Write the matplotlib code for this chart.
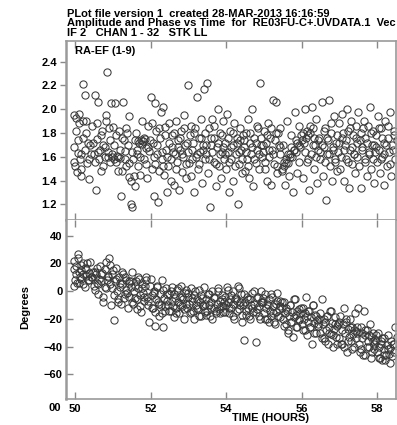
import matplotlib
matplotlib.use("Agg")
import matplotlib.pyplot as plt

plt.rcParams['font.family'] = ['Liberation Sans', 'DejaVu Sans']
plt.rcParams['font.weight'] = 'bold'

title_lines = [
    "PLot file version 1  created 28-MAR-2013 16:16:59",
    "Amplitude and Phase vs Time  for  RE03FU-C+.UVDATA.1  Vec",
    "IF 2   CHAN 1 - 32   STK LL",
]
baseline_label = "RA-EF (1-9)"

# time (hours), amplitude and phase (degrees)
times = [
    49.96, 49.98, 50.01, 50.03, 50.05, 50.08, 50.10, 50.12, 50.15, 50.17, 50.20, 50.22, 50.25, 50.28, 50.31, 50.34, 50.38, 50.42,
    50.46, 50.49, 50.52, 50.55, 50.58, 50.61, 50.64, 50.67, 50.70, 50.72, 50.75, 50.78, 50.81, 50.84, 50.86, 50.89, 50.92, 50.94,
    50.97, 51.00, 51.03, 51.05, 51.08, 51.11, 51.14, 51.17, 51.20, 51.22, 51.25, 51.28, 51.31, 51.34, 51.36, 51.39, 51.42, 51.44,
    51.47, 51.50, 51.52, 51.55, 51.58, 51.61, 51.63, 51.66, 51.69, 51.72, 51.74, 51.77, 51.80, 51.82, 51.85, 51.88, 51.91, 51.94,
    51.97, 52.00, 52.03, 52.06, 52.08, 52.11, 52.14, 52.16, 52.19, 52.22, 52.25, 52.28, 52.30, 52.33, 52.36, 52.39, 52.41, 52.44,
    52.47, 52.50, 52.53, 52.56, 52.58, 52.61, 52.64, 52.67, 52.69, 52.72, 52.75, 52.78, 52.81, 52.83, 52.86, 52.89, 52.92, 52.94,
    52.97, 53.00, 53.03, 53.06, 53.08, 53.11, 53.14, 53.16, 53.19, 53.22, 53.25, 53.28, 53.30, 53.33, 53.36, 53.39, 53.41, 53.44,
    53.47, 53.50, 53.53, 53.56, 53.58, 53.61, 53.64, 53.67, 53.69, 53.72, 53.75, 53.78, 53.81, 53.83, 53.86, 53.89, 53.92, 53.94,
    53.97, 54.00, 54.03, 54.06, 54.08, 54.11, 54.14, 54.17, 54.19, 54.22, 54.25, 54.28, 54.31, 54.33, 54.36, 54.39, 54.42, 54.44,
    54.47, 54.50, 54.53, 54.56, 54.58, 54.61, 54.64, 54.67, 54.69, 54.72, 54.75, 54.78, 54.81, 54.83, 54.86, 54.89, 54.92, 54.94,
    54.97, 55.00, 55.03, 55.06, 55.08, 55.11, 55.14, 55.17, 55.19, 55.22, 55.25, 55.28, 55.31, 55.33, 55.36, 55.39, 55.42, 55.44,
    55.47, 55.50, 55.53, 55.56, 55.58, 55.61, 55.64, 55.67, 55.69, 55.72, 55.75, 55.78, 55.81, 55.83, 55.86, 55.89, 55.92, 55.94,
    55.97, 56.00, 56.03, 56.06, 56.08, 56.11, 56.14, 56.17, 56.19, 56.22, 56.25, 56.28, 56.31, 56.33, 56.36, 56.39, 56.42, 56.44,
    56.47, 56.50, 56.53, 56.56, 56.58, 56.61, 56.64, 56.67, 56.69, 56.72, 56.75, 56.78, 56.81, 56.83, 56.86, 56.89, 56.92, 56.94,
    56.97, 57.00, 57.03, 57.06, 57.08, 57.11, 57.14, 57.17, 57.19, 57.22, 57.25, 57.28, 57.31, 57.33, 57.36, 57.39, 57.42, 57.44,
    57.47, 57.50, 57.53, 57.56, 57.58, 57.61, 57.64, 57.67, 57.69, 57.72, 57.75, 57.78, 57.81, 57.83, 57.86, 57.89, 57.92, 57.94,
    57.97, 58.00, 58.03, 58.06, 58.08, 58.11, 58.14, 58.17, 58.19, 58.22, 58.25, 58.28, 58.31, 58.34, 58.37, 58.40, 58.44, 58.48, 58.52,
    49.97, 50.02, 50.07, 50.11, 50.16, 50.21, 50.26, 50.30, 50.36, 50.40,
    50.47, 50.53, 50.57, 50.62, 50.68, 50.73, 50.79, 50.83, 50.88, 50.93,
    50.98, 51.04, 51.09, 51.13, 51.18, 51.23, 51.29, 51.33, 51.38, 51.43,
    51.48, 51.53, 51.59, 51.64, 51.68, 51.73, 51.78, 51.83, 51.87, 51.92,
    51.98, 52.04, 52.09, 52.13, 52.18, 52.23, 52.29, 52.34, 52.38, 52.43,
    52.48, 52.54, 52.59, 52.63, 52.68, 52.73, 52.79, 52.84, 52.88, 52.93,
    52.98, 53.04, 53.09, 53.13, 53.18, 53.23, 53.29, 53.34, 53.38, 53.43,
    53.48, 53.54, 53.59, 53.63, 53.68, 53.73, 53.79, 53.84, 53.88, 53.93,
    53.98, 54.04, 54.09, 54.13, 54.18, 54.23, 54.29, 54.34, 54.38, 54.43,
    54.48, 54.54, 54.59, 54.63, 54.68, 54.73, 54.79, 54.84, 54.88, 54.93,
    54.98, 55.04, 55.09, 55.13, 55.18, 55.23, 55.29, 55.34, 55.38, 55.43,
    55.48, 55.54, 55.59, 55.63, 55.68, 55.73, 55.79, 55.84, 55.88, 55.93,
    55.98, 56.04, 56.09, 56.13, 56.18, 56.23, 56.29, 56.34, 56.38, 56.43,
    56.48, 56.54, 56.59, 56.63, 56.68, 56.73, 56.79, 56.84, 56.88, 56.93,
    56.98, 57.04, 57.09, 57.13, 57.18, 57.23, 57.29, 57.34, 57.38, 57.43,
    57.48, 57.54, 57.59, 57.63, 57.68, 57.73, 57.79, 57.84, 57.88, 57.93,
    57.98, 58.04, 58.09, 58.13, 58.18, 58.23, 58.29, 58.35, 58.42, 58.46,
]

amplitude = [
    1.68, 1.95, 1.52, 1.93, 1.47, 1.74, 1.88, 1.58, 1.62, 1.44, 2.21, 1.90, 2.12, 1.80, 1.55, 1.72, 1.41, 1.62,
    1.86, 1.62, 2.12, 1.32, 1.75, 2.06, 1.58, 1.66, 1.48, 1.82, 1.70, 1.60, 1.95, 2.31, 1.64, 1.84, 1.56, 2.05,
    1.60, 1.85, 1.58, 2.05, 1.78, 1.61, 1.48, 1.82, 1.59, 1.27, 1.76, 2.06, 1.65, 1.52, 1.84, 1.70, 1.43, 1.94,
    1.20, 1.64, 1.18, 1.44, 1.35, 1.80, 1.62, 1.52, 1.72, 1.45, 1.74, 1.90, 1.73, 1.58, 1.75, 1.67, 1.42, 1.86,
    1.65, 2.10, 1.50, 1.72, 1.27, 2.05, 1.82, 1.62, 1.22, 1.48, 1.76, 1.98, 1.58, 2.02, 1.45, 1.85, 1.66, 1.30,
    1.52, 1.88, 1.40, 1.68, 1.78, 1.36, 1.62, 1.90, 1.56, 1.74, 1.32, 1.66, 1.82, 1.47, 1.60, 1.95, 1.70, 1.42,
    1.72, 2.20, 1.55, 1.86, 1.44, 1.66, 1.30, 1.80, 1.60, 2.10, 1.50, 1.76, 1.64, 1.92, 1.38, 1.70, 2.17, 1.58,
    1.62, 2.22, 1.46, 1.84, 1.18, 1.70, 1.92, 1.56, 1.76, 1.35, 1.68, 2.00, 1.52, 1.80, 1.42, 1.64, 1.90, 1.58,
    1.72, 1.50, 1.96, 1.64, 1.30, 1.82, 1.58, 1.70, 1.40, 1.88, 1.62, 1.76, 1.20, 1.54, 1.84, 1.66, 1.46, 1.78,
    1.68, 1.48, 1.80, 1.58, 1.92, 1.42, 1.72, 1.62, 2.00, 1.35, 1.76, 1.55, 1.86, 1.66, 1.50, 2.22, 1.70, 1.60,
    1.64, 1.82, 1.50, 1.72, 1.40, 1.88, 1.60, 1.76, 1.36, 1.66, 2.08, 1.54, 1.80, 2.06, 1.46, 1.70, 1.62, 1.84,
    1.48, 1.70, 1.52, 1.36, 1.58, 1.90, 1.55, 1.44, 1.62, 1.78, 1.60, 1.30, 1.66, 1.98, 1.64, 1.46, 1.70, 1.86,
    1.68, 1.74, 1.42, 1.72, 2.00, 1.76, 1.56, 1.78, 1.32, 1.80, 1.62, 2.02, 1.84, 1.50, 1.70, 1.92, 1.38, 1.66,
    1.76, 1.58, 2.06, 1.44, 1.68, 1.84, 1.24, 1.62, 1.74, 2.08, 1.52, 1.80, 1.40, 1.66, 1.94, 1.56, 1.72, 1.48,
    1.64, 1.88, 1.50, 1.76, 1.96, 1.40, 1.70, 1.58, 2.00, 1.82, 1.34, 1.66, 1.90, 1.54, 1.78, 1.62, 1.46, 1.86,
    1.72, 1.98, 1.52, 1.80, 1.34, 1.66, 1.90, 1.58, 1.76, 1.44, 1.86, 1.62, 2.02, 1.50, 1.70, 1.82, 1.38, 1.64,
    1.78, 1.56, 1.94, 1.66, 1.46, 1.84, 1.60, 1.72, 1.36, 1.90, 1.52, 1.76, 1.64, 1.98, 1.44, 1.70, 1.82, 1.58, 1.74,
    1.56, 1.82, 1.63, 1.96, 1.50, 1.76, 1.66, 1.90, 1.58, 1.70,
    1.72, 1.56, 1.88, 1.64, 1.78, 1.52, 1.68, 1.90, 1.60, 1.74,
    1.62, 1.70, 1.56, 1.60, 1.66, 1.48, 1.74, 1.58, 1.80, 1.55,
    1.40, 1.58, 1.74, 1.66, 1.73, 1.60, 1.71, 1.76, 1.54, 1.68,
    1.74, 1.88, 1.60, 1.54, 1.70, 1.84, 1.64, 1.52, 1.78, 1.60,
    1.72, 1.58, 1.64, 1.80, 1.50, 1.68, 1.76, 1.62, 1.84, 1.54,
    1.64, 1.78, 1.58, 1.72, 1.84, 1.62, 1.54, 1.76, 1.66, 1.80,
    1.70, 1.58, 1.76, 1.64, 1.86, 1.54, 1.72, 1.62, 1.78, 1.68,
    1.62, 1.76, 1.56, 1.68, 1.80, 1.52, 1.72, 1.64, 1.74, 1.58,
    1.74, 1.64, 1.52, 1.80, 1.68, 1.58, 1.72, 1.84, 1.62, 1.76,
    1.70, 1.56, 1.78, 1.66, 1.84, 1.62, 1.74, 1.52, 1.80, 1.68,
    1.50, 1.56, 1.55, 1.62, 1.60, 1.68, 1.66, 1.74, 1.72, 1.56,
    1.78, 1.80, 1.64, 1.82, 1.58, 1.86, 1.70, 1.76, 1.60, 1.74,
    1.64, 1.70, 1.82, 1.56, 1.76, 1.62, 1.88, 1.68, 1.58, 1.78,
    1.72, 1.60, 1.80, 1.66, 1.74, 1.56, 1.84, 1.68, 1.62, 1.76,
    1.60, 1.74, 1.68, 1.84, 1.56, 1.72, 1.64, 1.80, 1.58, 1.70,
    1.68, 1.84, 1.58, 1.76, 1.62, 1.70, 1.86, 1.54, 1.66, 1.78,
]

phase = [
    16, 22, 8, 12, 6, 27, 14, 10, 19, 9, 12, 5, 17, 11, 20, 8, 13, 10,
    10, 4, 14, 12, 6, -2, 9, 18, 7, 13, -8, 3, 21, 8, 11, 24, 5, -10,
    2, 15, -21, 7, 17, 0, -6, 10, 3, -9, 5, 12, -2, 8, 1, -12, 6, -4,
    3, -8, 14, 0, -5, 7, -13, 2, 9, -3, -15, 5, -1, -7, 4, 10, -4, -10,
    -22, 9, -3, -12, 0, -25, -6, 4, -8, -18, -2, -10, 8, -26, -5, -14, 2, -7,
    -10, -2, -14, 3, -7, -19, -5, -12, 1, -8, -16, -4, 4, -11, -6, -20, -1, -9,
    -12, -4, -9, 2, -15, -7, -20, -3, -10, -6, -13, 1, -8, -18, -5, -11, 3, -9,
    -6, -14, -2, -10, -18, -8, 0, -12, -5, -16, -9, 2, -13, -7, -11, -3, -15, -8,
    -4, -10, 3, -8, -16, -6, -12, 0, -9, -20, -5, -7, 4, -13, -8, -2, -22, -10,
    -35, -8, -14, -4, -12, -18, -6, -10, -1, -15, -9, -37, -13, -5, -11, -20, 0, -8,
    -8, -16, -2, -12, -20, -10, -6, -14, -18, -4, -11, -22, -9, -15, -1, -13, -19, -7,
    -12, -20, -8, -16, -24, -14, -30, -18, -10, -22, -15, -33, -19, -6, -17, -26, -13, -21,
    -16, -24, -12, -20, -28, -4, -18, -22, -14, -26, -19, -38, -10, -23, -17, -30, -21, -25,
    -20, -30, -6, -24, -34, -22, -28, -18, -38, -26, -14, -31, -23, -40, -27, -19, -33, -25,
    -24, -34, -18, -28, -38, -12, -30, -22, -44, -27, -33, -20, -36, -26, -31, -40, -16, -29,
    -30, -12, -38, -26, -42, -34, -14, -32, -46, -28, -36, -40, -24, -33, -44, -30, -38, -35,
    -36, -44, -30, -40, -48, -38, -34, -46, -42, -50, -39, -32, -45, -41, -36, -47, -38, -26, -33,
    4, 18, 24, 6, 15, 20, 3, 16, 8, 21,
    14, 1, 17, 5, 12, -4, 16, 2, 10, 19,
    12, -3, 9, -8, 6, 14, -5, 10, -1, 7,
    7, -9, 4, -6, 10, -11, 2, -4, 8, -7,
    4, -12, -1, -15, 3, -9, -16, 1, -11, -2,
    -14, 0, -11, -2, -16, 2, -10, -4, -13, 1,
    -1, -16, -5, -14, 0, -12, -18, -3, -10, -15,
    -17, -2, -12, -20, -4, -14, 0, -16, -6, -11,
    -15, 1, -12, -3, -18, -6, -14, 2, -10, -17,
    -2, -17, -6, -20, -12, 0, -15, -4, -18, -8,
    -5, -20, -9, -22, -2, -16, -24, -7, -18, -11,
    -8, -25, -12, -28, -10, -22, -6, -26, -14, -20,
    -12, -28, -16, -32, -14, -26, -10, -30, -18, -24,
    -16, -34, -20, -36, -18, -30, -14, -32, -24, -38,
    -22, -38, -24, -40, -20, -36, -26, -42, -28, -34,
    -26, -44, -30, -46, -28, -40, -32, -48, -36, -42,
    -32, -48, -36, -50, -34, -46, -42, -52, -38, -44,
]

assert len(times) == len(amplitude) == len(phase)

x_ticks = [50, 52, 54, 56, 58]
amp_ticks = [1.2, 1.4, 1.6, 1.8, 2.0, 2.2, 2.4]
phase_ticks = [-60, -40, -20, 0, 20, 40]

W, H = 397, 425
fig = plt.figure(figsize=(W / 100, H / 100), dpi=100)

left, right = 66, 396
ax1 = fig.add_axes([left / W, 1 - 220 / H, (right - left) / W, 179 / H])
ax2 = fig.add_axes([left / W, 1 - 399 / H, (right - left) / W, 179 / H])

marker = dict(marker='o', linestyle='none', markersize=5.2,
              markerfacecolor='none', markeredgecolor='#3a3a3a', markeredgewidth=0.75)

ax1.plot(times, amplitude, **marker)
ax2.plot(times, phase, **marker)

fs = 8.0

for ax in (ax1, ax2):
    ax.set_xlim(49.76, 58.5)
    ax.set_xticks(x_ticks)
    for s in ax.spines.values():
        s.set_color('#9a9a9a')
        s.set_linewidth(1.2)
    ax.spines['left'].set_linewidth(1.8)

ax1.set_ylim(1.068, 2.574)
ax1.set_yticks(amp_ticks)
ax1.set_yticklabels([f"{v:.1f}" for v in amp_ticks])
ax1.tick_params(axis='y', direction='out', length=4.5, width=1, color='#888888',
                labelsize=fs, pad=2)
ax1.tick_params(axis='x', direction='in', length=5, width=1, color='#888888',
                top=True, bottom=True, labelbottom=False)

ax2.set_ylim(-77.8, 51.3)
ax2.set_yticks(phase_ticks)
ax2.tick_params(axis='y', direction='in', length=5, width=1, color='#888888',
                labelsize=fs, pad=2.5)
ax2.tick_params(axis='x', direction='in', length=5, width=1, color='#888888',
                top=True, bottom=True, labelsize=fs, pad=3.5)
ax2.spines['top'].set_visible(False)

for lab in ax1.get_yticklabels() + ax2.get_yticklabels() + ax2.get_xticklabels():
    lab.set_fontweight('bold')

ax1.text(75 / W, 1 - 54 / H, baseline_label, transform=fig.transFigure,
         fontsize=fs, fontweight='bold')

for i, line in enumerate(title_lines):
    fig.text(67 / W, 1 - (17 + 9.5 * i) / H, line, fontsize=fs, fontweight='bold',
             va='baseline')

fig.text(25 / W, 1 - 307 / H, "Degrees", rotation=90, fontsize=fs,
         fontweight='bold', ha='center', va='center')
fig.text(270 / W, 1 - 418 / H, "TIME (HOURS)", fontsize=fs, fontweight='bold',
         ha='center', va='center')
fig.text(55 / W, 1 - 408 / H, "00", fontsize=fs, fontweight='bold',
         ha='center', va='center')

fig.savefig("out.png", dpi=100)
